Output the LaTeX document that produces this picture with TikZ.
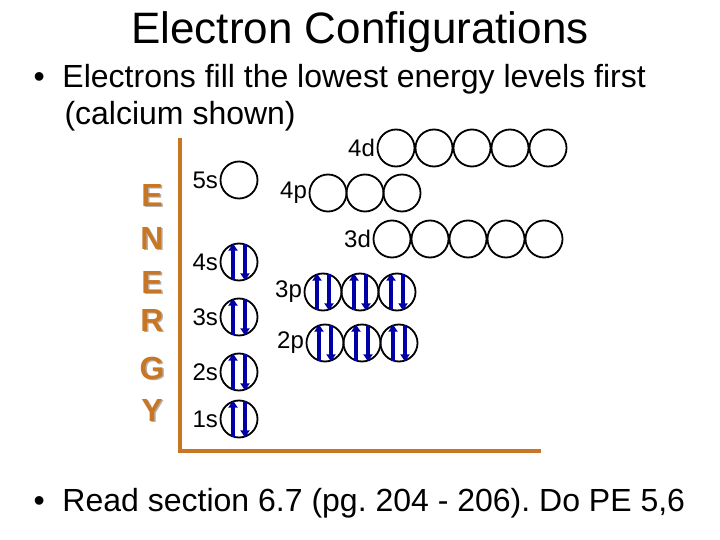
\documentclass[tikz,border=0pt]{standalone}
\usepackage{fontspec}
\setmainfont{Liberation Sans}
\usetikzlibrary{arrows.meta}
\frenchspacing
\definecolor{brn}{RGB}{200,118,36}
\begin{document}
\begin{tikzpicture}[x=1pt,y=-1pt,
  orb/.style={circle,draw=black,line width=1.8pt,minimum size=37pt,inner sep=0pt},
  lbl/.style={font=\fontsize{24}{26}\selectfont,inner sep=1.5pt},
  en/.style={font=\fontsize{32}{34}\selectfont\bfseries,text=brn,inner sep=0pt},
  el/.style={blue!65!black,line width=3.2pt,-{Triangle[length=7pt,width=9pt]}},
  axis/.style={draw=brn,line width=4pt}]
\useasboundingbox (0,0) rectangle (720,540);
\node (title) at (360,32) {\fontsize{44}{48}\selectfont Electron Configurations};
\node[anchor=west] (b1) at (30,79) {\fontsize{32}{38}\selectfont •\ \ Electrons fill the lowest energy levels first};
\node[anchor=west] (b1b) at (61,116) {\fontsize{32}{38}\selectfont (calcium shown)};
\node[anchor=west] (b2) at (30,503) {\fontsize{32}{34}\selectfont •\ \ Read section 6.7 (pg. 204 - 206). Do PE 5,6};
% axis
\coordinate (ax0) at (180,138);
\coordinate (ax1) at (180,451);
\coordinate (ax2) at (541,451);
\draw[axis] (ax0) -- (ax1) -- (ax2);
% energy letters
\foreach \L/\yy [count=\i] in {E/195,N/238,E/282,R/320,G/368,Y/410}{
  \node[en,text=black!30] at (153.5,\yy+1.5) {\L};
  \node[en] (en\i) at (152,\yy) {\L};}
% s orbitals
\foreach \n/\yy in {5/180,4/262,3/317,2/372,1/419}{
  \node[orb] (s\n) at (239,\yy) {};
  \node[lbl,anchor=east] (l\n s) at (s\n.west) {\n s};}
\foreach \n in {4,3,2,1}{
  \draw[el] ([xshift=-6pt,yshift=1pt]s\n.south) -- ([xshift=-6pt,yshift=-1pt]s\n.north);
  \draw[el] ([xshift=6pt,yshift=-1pt]s\n.north) -- ([xshift=6pt,yshift=1pt]s\n.south);}
% p orbitals
\foreach \nm/\x/\yy in {4p/328/193,3p/323/292,2p/325/343}{
  \foreach \k in {0,1,2}{\node[orb] (\nm\k) at (\x+37*\k,\yy) {};}
  \node[lbl,anchor=east] (l\nm) at (\nm0.west) {\nm};}
\foreach \nm in {3p,2p}{\foreach \k in {0,1,2}{
  \draw[el] ([xshift=-6pt,yshift=1pt]\nm\k.south) -- ([xshift=-6pt,yshift=-1pt]\nm\k.north);
  \draw[el] ([xshift=6pt,yshift=-1pt]\nm\k.north) -- ([xshift=6pt,yshift=1pt]\nm\k.south);}}
% d orbitals
\foreach \nm/\x/\yy in {4d/396/148,3d/392/239}{
  \foreach \k in {0,...,4}{\node[orb] (\nm\k) at (\x+38*\k,\yy) {};}
  \node[lbl,anchor=east] (l\nm) at (\nm0.west) {\nm};}
\end{tikzpicture}
\end{document}
